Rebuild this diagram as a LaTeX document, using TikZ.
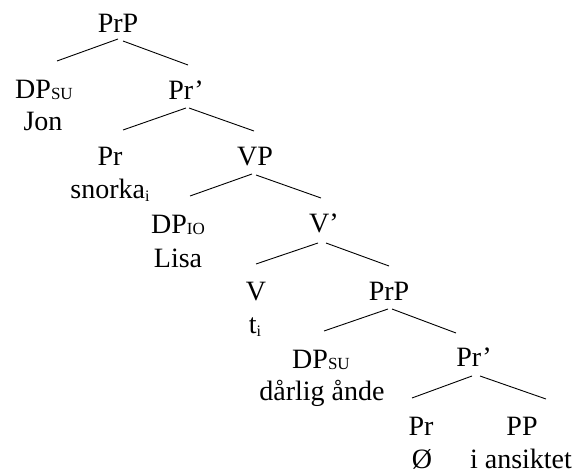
\documentclass[tikz,border=0pt]{standalone}
\usepackage{fontspec}
\setmainfont{Liberation Serif}
\newcommand{\subsc}[1]{\raisebox{-1pt}{\fontsize{17}{17}\selectfont #1}}
\newcommand{\subi}{\raisebox{-3pt}{\fontsize{16}{16}\selectfont i}}
\begin{document}
\begin{tikzpicture}[x=1pt,y=-1pt,
  lbl/.style={anchor=base,inner sep=0pt,font=\fontsize{28}{32}\selectfont},
  branch/.style={line width=0.9pt,black}]
\useasboundingbox[fill=white] (0,0) rectangle (581,473);
% level 0
\node[lbl] (prpA) at (118,33) {PrP};
% level 1
\node[lbl] (dpsuA) at (44,99) {DP\subsc{SU}};
\node[lbl] (jon) at (43,131) {Jon};
\node[lbl] (prbarA) at (186,100) {Pr’};
% level 2
\node[lbl] (prA) at (110,166) {Pr};
\node[lbl] (snorka) at (110,199) {snorka\subi};
\node[lbl] (vp) at (255,166) {VP};
% level 3
\node[lbl] (dpio) at (178,234) {DP\subsc{IO}};
\node[lbl] (lisa) at (178,267) {Lisa};
\node[lbl] (vbar) at (324,233) {V’};
% level 4
\node[lbl] (v) at (256,300) {V};
\node[lbl] (ti) at (255,333) {t\subi};
\node[lbl] (prpB) at (389,300) {PrP};
% level 5
\node[lbl] (dpsuB) at (321,368) {DP\subsc{SU}};
\node[lbl] (darlig) at (322,400) {dårlig ånde};
\node[lbl] (prbarB) at (474,366) {Pr’};
% level 6
\node[lbl] (prB) at (421,435) {Pr};
\node[lbl] (empty) at (422,468) {Ø};
\node[lbl] (pp) at (522,435) {PP};
\node[lbl] (ansiktet) at (521,468) {i ansiktet};
% branches
\draw[branch] ([shift={(0,6)}]prpA.base) -- ([shift={(13,-38)}]dpsuA.base);
\draw[branch] ([shift={(5,8)}]prpA.base) -- ([shift={(2,-35)}]prbarA.base);
\draw[branch] ([shift={(0,8)}]prbarA.base) -- ([shift={(13,-36)}]prA.base);
\draw[branch] ([shift={(3,8)}]prbarA.base) -- ([shift={(-1,-35)}]vp.base);
\draw[branch] ([shift={(-3,8)}]vp.base) -- ([shift={(12,-38)}]dpio.base);
\draw[branch] ([shift={(1,9)}]vp.base) -- ([shift={(-3,-35)}]vbar.base);
\draw[branch] ([shift={(-6,10)}]vbar.base) -- ([shift={(0,-36)}]v.base);
\draw[branch] ([shift={(2,10)}]vbar.base) -- ([shift={(0,-34)}]prpB.base);
\draw[branch] ([shift={(-1,9)}]prpB.base) -- ([shift={(3,-37)}]dpsuB.base);
\draw[branch] ([shift={(3,9)}]prpB.base) -- ([shift={(-18,-33)}]prbarB.base);
\draw[branch] ([shift={(-2,10)}]prbarB.base) -- ([shift={(-9,-37)}]prB.base);
\draw[branch] ([shift={(6,10)}]prbarB.base) -- ([shift={(24,-36)}]pp.base);
\end{tikzpicture}
\end{document}
